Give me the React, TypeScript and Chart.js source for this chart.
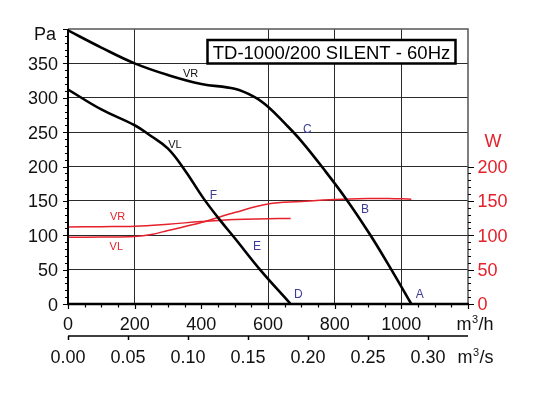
import React, { useEffect, useRef } from 'react';
import { Chart, registerables } from 'chart.js';

Chart.register(...registerables);

// ---- Data ----
const flowTickLabels = [0, 200, 400, 600, 800, 1000];
const flowM3sTickLabels = ['0.00', '0.05', '0.10', '0.15', '0.20', '0.25', '0.30'];
const paTickLabels = [0, 50, 100, 150, 200, 250, 300, 350];
const wTickLabels = [0, 50, 100, 150, 200];

// pressure curves (m3/h -> Pa)
const vrFlow = [0, 100, 200, 300, 400, 500, 560, 600, 650, 700, 766, 837, 906, 970, 1030];
const vrPa = [398, 373, 350, 333, 320, 313, 301, 287, 263, 237, 197, 151, 101, 50, 0];
const vlFlow = [0, 100, 200, 250, 300, 350, 406, 456, 500, 576, 668];
const vlPa = [312, 283, 260, 244, 226, 195, 154, 122, 96, 50, 0];

// power curves (m3/h -> W)
const wVrFlow = [0, 100, 200, 300, 400, 500, 600, 668];
const wVrW = [112, 112.5, 113, 116, 120, 123, 124, 124.5];
const wVlFlow = [0, 100, 200, 250, 300, 400, 500, 600, 700, 800, 900, 960, 1030];
const wVlW = [97, 97.5, 98.3, 101, 107, 118.5, 133, 145.5, 149, 152, 153.5, 153.5, 152.5];

// curve annotations [text, m3/h, Pa]
const blackLabels = ['VR', 'VL'];
const blackLabelX = [368, 321];
const blackLabelY = [335, 232];
const redLabels = ['VR', 'VL'];
const redLabelX = [149, 145];
const redLabelY = [126, 83.5];
const pointLabels = ['C', 'F', 'E', 'D', 'B', 'A'];
const pointLabelX = [718, 436, 567, 691, 891, 1055];
const pointLabelY = [254, 157, 83, 13, 137, 14];

const titleText = 'TD-1000/200 SILENT - 60Hz';

const RED = '#e5212b';
const FONT = '"Liberation Sans", Arial, sans-serif';

const toXY = (xs: number[], ys: number[]) => xs.map((x, i) => ({ x, y: ys[i] }));

const overlay = {
  id: 'overlay',
  beforeDatasetsDraw(chart: any) {
    const { ctx, chartArea: a } = chart;
    ctx.save();
    ctx.strokeStyle = '#555';
    ctx.lineWidth = 1.5;
    ctx.beginPath();
    ctx.moveTo(a.left, a.top);
    ctx.lineTo(a.right, a.top);
    ctx.lineTo(a.right, a.bottom);
    ctx.stroke();
    ctx.restore();
  },
  afterDraw(chart: any) {
    const { ctx, chartArea: a, scales } = chart;
    const xs = scales.x;
    const ys = scales.y;
    const yw = scales.w;
    ctx.save();

    // axis lines
    ctx.strokeStyle = '#000';
    ctx.lineWidth = 2;
    ctx.beginPath();
    ctx.moveTo(a.left, a.top);
    ctx.lineTo(a.left, a.bottom);
    ctx.stroke();
    ctx.lineWidth = 2.5;
    ctx.beginPath();
    ctx.moveTo(a.left - 1, a.bottom);
    ctx.lineTo(a.right + 1, a.bottom);
    ctx.stroke();

    // left ticks every 10 Pa
    ctx.lineWidth = 1.2;
    ctx.beginPath();
    for (let v = 0; v <= 400; v += 10) {
      const py = Math.round(ys.getPixelForValue(v)) + 0.5;
      const len = v % 50 === 0 ? 5 : 3;
      ctx.moveTo(a.left - len, py);
      ctx.lineTo(a.left, py);
    }
    // right ticks every 10 W up to 200
    for (let v = 0; v <= 200; v += 10) {
      const py = Math.round(yw.getPixelForValue(v)) + 0.5;
      const len = v % 50 === 0 ? 6 : 3;
      ctx.moveTo(a.right, py);
      ctx.lineTo(a.right + len, py);
    }
    // bottom ticks every 50 m3/h
    for (let v = 0; v <= 1200; v += 50) {
      const px = Math.round(xs.getPixelForValue(v)) + 0.5;
      const len = v % 200 === 0 ? 5 : 3.5;
      ctx.moveTo(px, a.bottom);
      ctx.lineTo(px, a.bottom + len);
    }
    ctx.stroke();

    // secondary m3/s axis
    const y2 = a.bottom + 32;
    ctx.lineWidth = 1.5;
    ctx.beginPath();
    ctx.moveTo(a.left, y2);
    ctx.lineTo(a.right, y2);
    flowM3sTickLabels.forEach((s) => {
      const px = Math.round(xs.getPixelForValue(parseFloat(s) * 3600)) + 0.5;
      ctx.moveTo(px, y2);
      ctx.lineTo(px, y2 + 4);
    });
    ctx.stroke();

    // tick labels
    ctx.fillStyle = '#111';
    ctx.font = `18px ${FONT}`;
    ctx.textBaseline = 'alphabetic';
    ctx.textAlign = 'right';
    paTickLabels.forEach((v) => ctx.fillText(String(v), a.left - 10, ys.getPixelForValue(v) + 6.5));
    ctx.fillText('Pa', a.left - 12, ys.getPixelForValue(400) + 11);

    ctx.textAlign = 'center';
    flowTickLabels.forEach((v) => ctx.fillText(String(v), xs.getPixelForValue(v), a.bottom + 26));
    flowM3sTickLabels.forEach((s) =>
      ctx.fillText(s, xs.getPixelForValue(parseFloat(s) * 3600), a.bottom + 58.5)
    );

    // unit labels with superscript
    const unit = (main: string, rest: string, x: number, y: number) => {
      ctx.textAlign = 'left';
      ctx.font = `18px ${FONT}`;
      ctx.fillText(main, x, y);
      let cx = x + ctx.measureText(main).width;
      ctx.font = `11px ${FONT}`;
      ctx.fillText('3', cx + 0.5, y - 7);
      cx += ctx.measureText('3').width + 1;
      ctx.font = `18px ${FONT}`;
      ctx.fillText(rest, cx, y);
    };
    unit('m', '/h', a.right - 11.5, a.bottom + 26);
    unit('m', '/s', a.right - 10.5, a.bottom + 58.5);

    // right W labels
    ctx.fillStyle = RED;
    ctx.font = `18px ${FONT}`;
    ctx.textAlign = 'left';
    wTickLabels.forEach((v) => ctx.fillText(String(v), a.right + 9.5, yw.getPixelForValue(v) + 6.3));
    ctx.textAlign = 'center';
    ctx.fillText('W', a.right + 25, yw.getPixelForValue(200) - 19.3);

    // curve annotations
    ctx.textBaseline = 'middle';
    ctx.font = `11px ${FONT}`;
    ctx.fillStyle = '#111';
    blackLabels.forEach((t, i) =>
      ctx.fillText(t, xs.getPixelForValue(blackLabelX[i]), ys.getPixelForValue(blackLabelY[i]))
    );
    ctx.fillStyle = RED;
    redLabels.forEach((t, i) =>
      ctx.fillText(t, xs.getPixelForValue(redLabelX[i]), ys.getPixelForValue(redLabelY[i]))
    );
    ctx.font = `12px ${FONT}`;
    ctx.fillStyle = '#3c3c98';
    pointLabels.forEach((t, i) =>
      ctx.fillText(t, xs.getPixelForValue(pointLabelX[i]), ys.getPixelForValue(pointLabelY[i]))
    );

    // title box
    const bx = 207.5, by = 40, bw = 248, bh = 23.5;
    ctx.fillStyle = '#fff';
    ctx.fillRect(bx, by, bw, bh);
    ctx.strokeStyle = '#000';
    ctx.lineWidth = 2.5;
    ctx.strokeRect(bx, by, bw, bh);
    ctx.fillStyle = '#000';
    ctx.font = `18.5px ${FONT}`;
    ctx.textAlign = 'center';
    ctx.textBaseline = 'alphabetic';
    ctx.fillText(titleText, bx + bw / 2, 58.5);

    ctx.restore();
  },
};

export default function App() {
  const canvasRef = useRef<HTMLCanvasElement | null>(null);

  useEffect(() => {
    if (!canvasRef.current) return;
    const gridColor = (ctx: any) => {
      const v = ctx.tick ? ctx.tick.value : 0;
      return v === 0 || v === 400 || v === 1200 ? 'rgba(0,0,0,0)' : '#2a2a2a';
    };
    const lineDs = (label: string, data: any[], color: string, width: number, axis: string) => ({
      label,
      data,
      borderColor: color,
      borderWidth: width,
      pointRadius: 0,
      tension: 0.4,
      yAxisID: axis,
    });
    const chart = new Chart(canvasRef.current, {
      type: 'line',
      data: {
        datasets: [
          lineDs('VR', toXY(vrFlow, vrPa), '#000', 2.6, 'y'),
          lineDs('VL', toXY(vlFlow, vlPa), '#000', 2.6, 'y'),
          lineDs('VR W', toXY(wVrFlow, wVrW), RED, 1.5, 'w'),
          lineDs('VL W', toXY(wVlFlow, wVlW), RED, 1.5, 'w'),
        ],
      },
      options: {
        animation: false,
        responsive: false,
        maintainAspectRatio: false,
        events: [],
        layout: { padding: { left: 68, right: 76, top: 29, bottom: 94 } },
        plugins: { legend: { display: false }, tooltip: { enabled: false }, title: { display: false } },
        scales: {
          x: {
            type: 'linear',
            min: 0,
            max: 1200,
            ticks: { display: false, stepSize: 200 },
            grid: { color: gridColor, lineWidth: 1, drawTicks: false },
            border: { display: false },
            afterFit: (s: any) => {
              s.height = 0;
            },
          },
          y: {
            type: 'linear',
            min: 0,
            max: 400,
            ticks: { display: false, stepSize: 50 },
            grid: { color: gridColor, lineWidth: 1, drawTicks: false },
            border: { display: false },
            afterFit: (s: any) => {
              s.width = 0;
            },
          },
          w: {
            type: 'linear',
            position: 'right',
            min: 0,
            max: 400,
            ticks: { display: false, stepSize: 50 },
            grid: { display: false, drawTicks: false },
            border: { display: false },
            afterFit: (s: any) => {
              s.width = 0;
            },
          },
        },
      } as any,
      plugins: [overlay],
    });
    return () => chart.destroy();
  }, []);

  return (
    <div style={{ position: 'fixed', left: 0, top: 0, width: 544, height: 398, background: '#fff' }}>
      <canvas ref={canvasRef} width={544} height={398} style={{ display: 'block' }} />
    </div>
  );
}
